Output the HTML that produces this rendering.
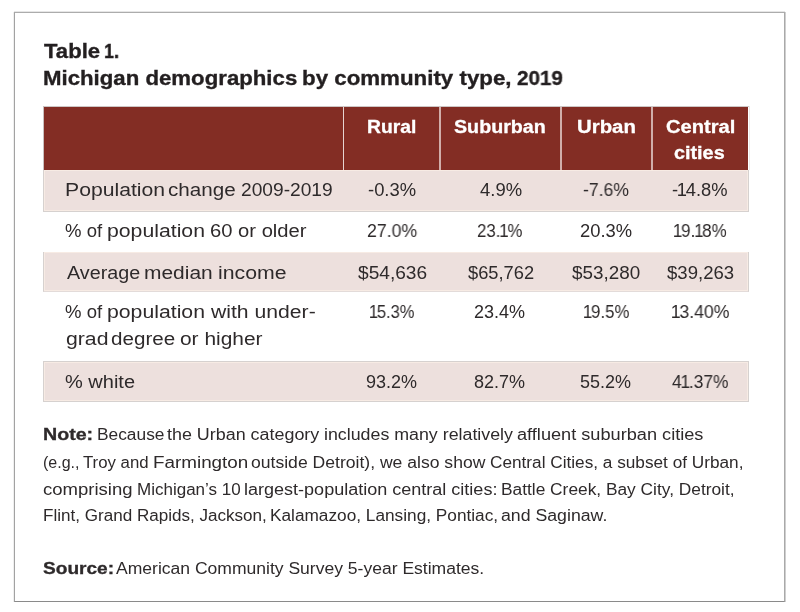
<!DOCTYPE html>
<html><head><meta charset="utf-8">
<style>
*{margin:0;padding:0;box-sizing:border-box}
html,body{width:800px;height:612px;background:#fff;overflow:hidden}
body{position:relative;font-family:"Liberation Sans",sans-serif;color:#231f20}
.frame{position:absolute;left:14px;top:12px;width:771px;height:590px;border:1px solid #a9a9a9;border-top-color:#acacac;border-bottom-color:#8a8a8a;border-left-color:#a2a2a2;box-shadow:-1px 0 0 #efefef,0 -1px 0 #e6e6e6,1px 0 0 #cfcfcf}
.ln{position:absolute}
.hdr{position:absolute;left:44px;top:107px;width:704px;height:63px;background:#832d24}
.vd{position:absolute;top:107px;height:63px;width:1px;background:#e6d4d1}
.row{position:absolute;left:43px;width:706px;background:#ede0dd;border:1px solid #d6d1cf;box-shadow:inset 0 0 0 1px #f7ebe4}
.e{position:absolute;white-space:nowrap;line-height:20px;transform-origin:0 0;will-change:transform}
.ti{font-weight:bold;-webkit-text-stroke:0.35px #231f20}
b{-webkit-text-stroke:0.3px #2e2a2b}
.hd{font-weight:bold;color:#fff;-webkit-text-stroke:0.3px #fff}
.tx{color:#2e2a2b}
.o{margin:0 -1.3px}
.bl{display:inline-block;width:0;height:0;vertical-align:baseline}
</style></head><body>
<div class="frame"></div>
<div class="ln" style="left:43px;top:106px;width:706px;height:1px;background:#cdc6c5"></div>
<div class="ln" style="left:43px;top:106px;width:1px;height:64px;background:#c9bfbe"></div>
<div class="ln" style="left:749px;top:106px;width:1px;height:64px;background:#ebe9e9"></div>
<div class="hdr"></div>
<div class="vd" style="left:343px"></div>
<div class="vd" style="left:439px;width:2px;background:rgba(236,220,217,0.74)"></div>
<div class="vd" style="left:560px;width:2px;background:rgba(236,220,217,0.74)"></div>
<div class="vd" style="left:651px;width:2px;background:rgba(236,220,217,0.74)"></div>
<div class="row" style="top:170px;height:42px;border-top:0"></div>
<div class="row" style="top:252px;height:40px;border-top:0;border-bottom-color:#e3dbd9"></div>
<div class="row" style="top:361px;height:41px"></div>
<div class="e ti" id="t1" style="left:44.00px;top:40.91px;font-size:21px;transform:scaleX(1.0529)">Table</div>
<div class="e ti" id="t1b" style="left:104.14px;top:40.91px;font-size:21px;transform:scaleX(0.8552)">1.</div>
<div class="e ti" id="t2" style="left:42.93px;top:67.50px;font-size:21px;transform:scaleX(1.0577)">Michigan demographics</div>
<div class="e ti" id="t2b" style="left:301.96px;top:67.50px;font-size:21px;transform:scaleX(1.0626)">by community type,</div>
<div class="e ti" id="t2c" style="left:517.00px;top:67.50px;font-size:21px;transform:scaleX(0.9828)">2019</div>
<div class="e hd" id="h1" style="left:366.95px;top:116.61px;font-size:18px;transform:scaleX(1.0729)">Rural</div>
<div class="e hd" id="h2" style="left:453.95px;top:116.70px;font-size:18px;transform:scaleX(1.0927)">Suburban</div>
<div class="e hd" id="h3" style="left:577.41px;top:116.70px;font-size:18px;transform:scaleX(1.1321)">Urban</div>
<div class="e hd" id="h4" style="left:666.37px;top:116.70px;font-size:18px;transform:scaleX(1.1167)">Central</div>
<div class="e hd" id="h5" style="left:674.39px;top:143.41px;font-size:18px;transform:scaleX(1.1002)">cities</div>
<div class="e tx" id="l1" style="left:64.77px;top:179.61px;font-size:17.5px;transform:scaleX(1.2102)">Population</div>
<div class="e tx" id="l1b" style="left:168.23px;top:179.61px;font-size:17.5px;transform:scaleX(1.1786)">change</div>
<div class="e tx" id="l1c" style="left:240.89px;top:179.61px;font-size:17.5px;transform:scaleX(1.0952)">2009-2019</div>
<div class="e tx" id="l2" style="left:65.18px;top:221.20px;font-size:17.5px;transform:scaleX(1.0591)">% of</div>
<div class="e tx" id="l2b" style="left:107.31px;top:221.20px;font-size:17.5px;transform:scaleX(1.2127)">population</div>
<div class="e tx" id="l2c" style="left:209.81px;top:221.20px;font-size:17.5px;transform:scaleX(1.1537)">60 or older</div>
<div class="e tx" id="l3" style="left:66.52px;top:263.00px;font-size:17.5px;transform:scaleX(1.1282)">Average</div>
<div class="e tx" id="l3b" style="left:144.29px;top:263.00px;font-size:17.5px;transform:scaleX(1.1965)">median</div>
<div class="e tx" id="l3c" style="left:217.86px;top:263.00px;font-size:17.5px;transform:scaleX(1.2146)">income</div>
<div class="e tx" id="l4" style="left:65.18px;top:302.11px;font-size:17.5px;transform:scaleX(1.0591)">% of</div>
<div class="e tx" id="l4b" style="left:107.31px;top:302.11px;font-size:17.5px;transform:scaleX(1.2127)">population</div>
<div class="e tx" id="l4c" style="left:210.56px;top:302.11px;font-size:17.5px;transform:scaleX(1.2093)">with under-</div>
<div class="e tx" id="l5" style="left:65.98px;top:328.70px;font-size:17.5px;transform:scaleX(1.2124)">grad</div>
<div class="e tx" id="l5b" style="left:111.24px;top:328.70px;font-size:17.5px;transform:scaleX(1.1774)">degree</div>
<div class="e tx" id="l5c" style="left:179.51px;top:328.70px;font-size:17.5px;transform:scaleX(1.1942)">or higher</div>
<div class="e tx" id="l6" style="left:65.28px;top:371.70px;font-size:17.5px;transform:scaleX(1.1425)">% white</div>
<div class="e tx" id="v11" style="left:367.98px;top:179.61px;font-size:18px;transform:scaleX(1.0225)">-0.3%</div>
<div class="e tx" id="v12" style="left:480.00px;top:179.61px;font-size:18px;transform:scaleX(1.0250)">4.9%</div>
<div class="e tx" id="v13" style="left:583.02px;top:179.61px;font-size:18px;transform:scaleX(0.9780)">-7.6%</div>
<div class="e tx" id="v14" style="left:671.98px;top:179.61px;font-size:18px;transform:scaleX(1.0189)">-<span class=o>1</span>4.8%</div>
<div class="e tx" id="v21" style="left:366.52px;top:221.20px;font-size:18px;transform:scaleX(0.9838)">27.0%</div>
<div class="e tx" id="v22" style="left:477.29px;top:221.20px;font-size:18px;transform:scaleX(0.9364)">23.<span class=o>1</span>%</div>
<div class="e tx" id="v23" style="left:579.98px;top:221.20px;font-size:18px;transform:scaleX(1.0206)">20.3%</div>
<div class="e tx" id="v24" style="left:674.00px;top:221.20px;font-size:18px;transform:scaleX(0.9455)"><span class=o>1</span>9.<span class=o>1</span>8%</div>
<div class="e tx" id="v31" style="left:357.73px;top:263.00px;font-size:18px;transform:scaleX(1.0625)">$54,636</div>
<div class="e tx" id="v32" style="left:467.75px;top:263.00px;font-size:18px;transform:scaleX(1.0156)">$65,762</div>
<div class="e tx" id="v33" style="left:572.00px;top:263.00px;font-size:18px;transform:scaleX(1.0470)">$53,280</div>
<div class="e tx" id="v34" style="left:667.26px;top:263.00px;font-size:18px;transform:scaleX(1.0312)">$39,263</div>
<div class="e tx" id="v41" style="left:369.77px;top:302.11px;font-size:18px;transform:scaleX(0.9168)"><span class=o>1</span>5.3%</div>
<div class="e tx" id="v42" style="left:474.26px;top:302.11px;font-size:18px;transform:scaleX(1.0002)">23.4%</div>
<div class="e tx" id="v43" style="left:584.00px;top:302.11px;font-size:18px;transform:scaleX(0.9377)"><span class=o>1</span>9.5%</div>
<div class="e tx" id="v44" style="left:671.51px;top:302.11px;font-size:18px;transform:scaleX(0.9828)"><span class=o>1</span>3.40%</div>
<div class="e tx" id="v51" style="left:366.26px;top:371.70px;font-size:18px;transform:scaleX(1.0002)">93.2%</div>
<div class="e tx" id="v52" style="left:474.26px;top:371.70px;font-size:18px;transform:scaleX(1.0002)">82.7%</div>
<div class="e tx" id="v53" style="left:580.49px;top:371.70px;font-size:18px;transform:scaleX(1.0002)">55.2%</div>
<div class="e tx" id="v54" style="left:672.00px;top:371.70px;font-size:18px;transform:scaleX(0.9657)">4<span class=o>1</span>.37%</div>
<div class="e tx" id="n1a" style="left:43.16px;top:425.41px;font-size:16px;transform:scaleX(1.2258)"><b>Note:</b></div>
<div class="e tx" id="n1b" style="left:97.18px;top:425.41px;font-size:16px;transform:scaleX(1.0834)">Because</div>
<div class="e tx" id="n1b2" style="left:167.46px;top:425.41px;font-size:16px;transform:scaleX(1.1191)">the Urban category</div>
<div class="e tx" id="n1c" style="left:323.89px;top:425.41px;font-size:16px;transform:scaleX(1.1124)">includes many relatively</div>
<div class="e tx" id="n1d" style="left:516.58px;top:425.41px;font-size:16px;transform:scaleX(1.1350)">affluent suburban cities</div>
<div class="e tx" id="n2a" style="left:43.49px;top:452.61px;font-size:16px;transform:scaleX(1.0003)">(e.g.,</div>
<div class="e tx" id="n2a2" style="left:83.48px;top:452.61px;font-size:16px;transform:scaleX(1.0485)">Troy and</div>
<div class="e tx" id="n2a3" style="left:152.52px;top:452.61px;font-size:16px;transform:scaleX(1.1774)">Farmington</div>
<div class="e tx" id="n2b" style="left:250.88px;top:452.61px;font-size:16px;transform:scaleX(1.0981)">outside Detroit), we also show</div>
<div class="e tx" id="n2c" style="left:489.66px;top:452.61px;font-size:16px;transform:scaleX(1.0755)">Central Cities, a subset of Urban,</div>
<div class="e tx" id="n3a" style="left:42.55px;top:479.50px;font-size:16px;transform:scaleX(1.1574)">comprising</div>
<div class="e tx" id="n3a2" style="left:137.21px;top:479.50px;font-size:16px;transform:scaleX(1.0626)">Michigan’s 10</div>
<div class="e tx" id="n3b" style="left:243.87px;top:479.50px;font-size:16px;transform:scaleX(1.1262)">largest-population central cities:</div>
<div class="e tx" id="n3c" style="left:501.19px;top:479.50px;font-size:16px;transform:scaleX(1.0826)">Battle Creek, Bay City, Detroit,</div>
<div class="e tx" id="n4a" style="left:43.45px;top:506.00px;font-size:16px;transform:scaleX(1.0664)">Flint, Grand Rapids, Jackson,</div>
<div class="e tx" id="n4b" style="left:270.40px;top:506.00px;font-size:16px;transform:scaleX(1.0775)">Kalamazoo, Lansing, Pontiac,</div>
<div class="e tx" id="n4c" style="left:501.17px;top:506.00px;font-size:16px;transform:scaleX(1.1064)">and Saginaw.</div>
<div class="e tx" id="s1a" style="left:42.81px;top:559.31px;font-size:16px;transform:scaleX(1.1931)"><b>Source:</b></div>
<div class="e tx" id="s1b" style="left:116.45px;top:559.31px;font-size:16px;transform:scaleX(1.0955)">American Community Survey 5-year Estimates.</div>
</body></html>
